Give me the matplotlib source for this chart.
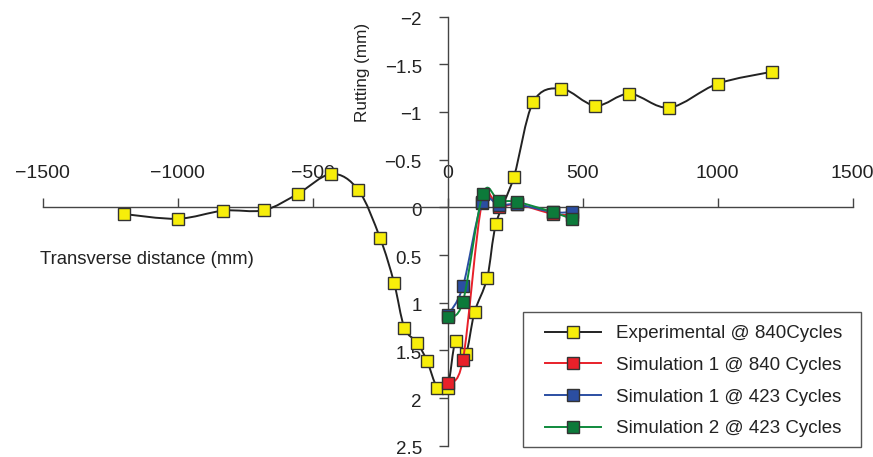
import numpy as np
import matplotlib
matplotlib.use("Agg")
import matplotlib.pyplot as plt
from matplotlib.path import Path
from matplotlib.patches import PathPatch, Rectangle
from matplotlib.lines import Line2D
from matplotlib.transforms import ScaledTranslation

plt.rcParams['font.family'] = ['Liberation Sans', 'DejaVu Sans']
plt.rcParams['text.color'] = '#222222'
plt.rcParams['xtick.color'] = '#444444'
plt.rcParams['ytick.color'] = '#444444'
plt.rcParams['xtick.labelcolor'] = '#222222'
plt.rcParams['ytick.labelcolor'] = '#222222'

# transverse distance (mm) and rutting (mm) for each series
exp_x = [-1200, -1000, -830, -680, -555, -430, -330, -250, -198, -160, -112, -76, -38,
         0, 30, 67, 100, 147, 180, 246, 317, 421, 548, 674, 822, 1000, 1200]
exp_y = [0.07, 0.12, 0.035, 0.03, -0.14, -0.35, -0.18, 0.32, 0.79, 1.26, 1.42, 1.61, 1.89,
         1.89, 1.40, 1.54, 1.10, 0.74, 0.17, -0.32, -1.10, -1.245, -1.065, -1.19, -1.045, -1.295, -1.42]

sim1_840_x = [1, 57, 128, 190, 258, 390, 462]
sim1_840_y = [1.84, 1.60, -0.05, 0.0, -0.03, 0.07, 0.08]

sim1_423_x = [1, 57, 128, 190, 258, 390, 462]
sim1_423_y = [1.13, 0.83, -0.055, -0.02, -0.03, 0.05, 0.05]

sim2_423_x = [1, 57, 131, 190, 258, 390, 462]
sim2_423_y = [1.15, 0.99, -0.14, -0.07, -0.056, 0.05, 0.126]

series_names = ['Experimental @ 840Cycles', 'Simulation 1 @ 840 Cycles',
                'Simulation 1 @ 423 Cycles', 'Simulation 2 @ 423 Cycles']
line_colors = ['#222222', '#e8202a', '#2b4ea2', '#0f8a3c']
face_colors = ['#f7ee0a', '#e8202a', '#2b4ea2', '#0c7a3a']

x_ticks = [-1500, -1000, -500, 0, 500, 1000, 1500]
y_ticks = [-2, -1.5, -1, -0.5, 0, 0.5, 1, 1.5, 2, 2.5]


def smooth_path(xs, ys):
    # Catmull-Rom style cubic Bezier through the points (like a spreadsheet "smoothed line")
    pts = np.column_stack([xs, ys]).astype(float)
    n = len(pts)
    verts = [pts[0]]
    codes = [Path.MOVETO]
    for i in range(n - 1):
        p0 = pts[i - 1] if i > 0 else pts[i]
        p1 = pts[i]
        p2 = pts[i + 1]
        p3 = pts[i + 2] if i + 2 < n else pts[i + 1]
        c1 = p1 + (p2 - p0) / 6.0
        c2 = p2 - (p3 - p1) / 6.0
        verts += [c1, c2, p2]
        codes += [Path.CURVE4] * 3
    return Path(verts, codes)


def fmt(v):
    return f'{v:g}'.replace('-', '\u2212')


fig = plt.figure(figsize=(8.73, 4.57), dpi=100)
ax = fig.add_axes([42.5 / 873, 11.2 / 457, 810 / 873, 429.3 / 457])
ax.set_xlim(-1500, 1500)
ax.set_ylim(2.5, -2)

data = [(exp_x, exp_y), (sim1_840_x, sim1_840_y), (sim1_423_x, sim1_423_y), (sim2_423_x, sim2_423_y)]
for k, (xs, ys) in enumerate(data):
    patch = PathPatch(smooth_path(xs, ys), facecolor='none', edgecolor=line_colors[k],
                      lw=1.4, zorder=3 + 2 * k)
    ax.add_patch(patch)
    ax.plot(xs, ys, ls='none', marker='s', ms=8.5, mfc=face_colors[k], mec='#333333',
            mew=1.0, zorder=4 + 2 * k)

# axes cross at the origin
for s in ['right', 'bottom']:
    ax.spines[s].set_visible(False)
ax.spines['left'].set_position(('data', 0))
ax.spines['top'].set_position(('data', 0))
for s in ['left', 'top']:
    ax.spines[s].set_color('#444444')
    ax.spines[s].set_linewidth(1.0)

ax.xaxis.tick_top()
ax.set_xticks(x_ticks)
ax.set_xticklabels([fmt(v) for v in x_ticks])
ax.tick_params(axis='x', direction='out', length=6.5, width=1.0, labelsize=14, pad=12)
ax.set_yticks(y_ticks)
ax.set_yticklabels([fmt(v) for v in y_ticks])
ax.tick_params(axis='y', direction='out', length=6.5, width=1.0, labelsize=13.5, pad=12)
for lab in ax.get_yticklabels():
    lab.set_transform(lab.get_transform() + ScaledTranslation(0, -2 / 100, fig.dpi_scale_trans))

fig.text(40 / 873, 1 - 260 / 457, 'Transverse distance (mm)', fontsize=13.3,
         ha='left', va='center')
fig.text(362 / 873, 1 - 72 / 457, 'Rutting (mm)', fontsize=12.3, rotation=90,
         ha='center', va='center')

# legend: entries placed without their own frame, box drawn around them
handles = [Line2D([], [], color=line_colors[k], lw=1.4, marker='s', ms=8.5,
                  mfc=face_colors[k], mec='#333333', mew=1.0) for k in range(4)]
leg = ax.legend(handles, series_names, loc='upper left',
                bbox_to_anchor=(545 / 873, 1 - 325 / 457), bbox_transform=fig.transFigure,
                fontsize=13.5, frameon=False, borderpad=0, handlelength=3.0,
                handletextpad=0.8, labelspacing=0.78, borderaxespad=0)
leg.set_zorder(20)
ax.add_patch(Rectangle((522.7 / 873, 1 - 446.7 / 457), 338 / 873, 134.4 / 457,
                       transform=fig.transFigure, facecolor='white', edgecolor='#555555',
                       lw=1.0, zorder=19, clip_on=False))

fig.savefig('out.png', dpi=100)
